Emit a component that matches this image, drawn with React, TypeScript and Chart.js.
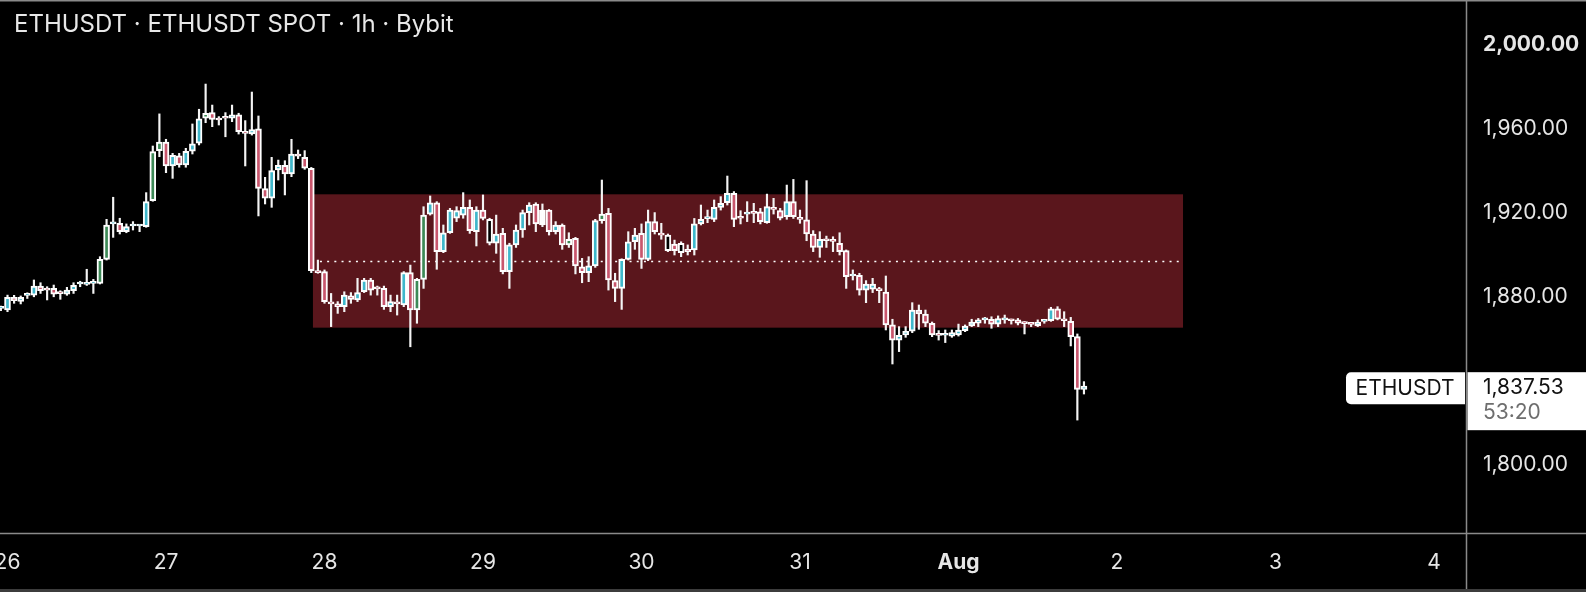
import { useEffect, useRef } from 'react';
import { Chart, registerables } from 'chart.js';

Chart.register(...registerables);

// ---- data (hour index counted from Jul 26 00:00, 1h candles) ----
const firstHour = -1;

const opens = [
  1874.6, 1873.8, 1879.8, 1877.9, 1880.8, 1880.9, 1885.2, 1883.9, 1884.1, 1881.7, 1881.4, 1883.0,
  1886.2, 1886.0, 1886.5, 1886.5, 1897.9, 1914.8, 1915.1, 1911.1, 1913.8, 1913.8, 1913.5, 1925.9,
  1949.7, 1953.8, 1942.4, 1947.2, 1942.9, 1949.4, 1953.2, 1965.2, 1967.8, 1964.4, 1965.2, 1965.1,
  1966.8, 1958.4, 1957.6, 1960.1, 1931.6, 1927.1, 1940.5, 1942.7, 1938.6, 1948.1, 1946.5, 1941.3,
  1892.5, 1892.1, 1877.3, 1876.7, 1875.4, 1880.5, 1878.6, 1882.5, 1888.1, 1884.2, 1884.1, 1875.4,
  1877.3, 1876.2, 1891.6, 1873.8, 1888.4, 1919.5, 1924.9, 1901.6, 1910.6, 1917.5, 1919.0, 1922.7,
  1911.1, 1921.4, 1917.0, 1905.6, 1910.3, 1892.1, 1904.8, 1911.9, 1920.2, 1924.3, 1914.3, 1921.4,
  1911.1, 1914.3, 1904.8, 1907.9, 1894.4, 1891.6, 1894.8, 1916.4, 1919.8, 1887.8, 1884.1, 1897.9,
  1906.3, 1910.3, 1897.9, 1915.9, 1910.3, 1909.5, 1905.2, 1901.1, 1902.7, 1902.4, 1914.8, 1917.3,
  1917.0, 1922.7, 1924.9, 1929.4, 1917.9, 1919.5, 1920.2, 1920.6, 1915.4, 1922.7, 1921.1, 1918.2,
  1925.4, 1917.9, 1916.7, 1910.0, 1903.6, 1907.5, 1906.8, 1905.6, 1902.1, 1890.0, 1890.3, 1883.3,
  1883.7, 1883.3, 1882.4, 1866.7, 1859.5, 1861.9, 1863.7, 1873.8, 1871.9, 1867.5, 1861.9, 1861.8,
  1861.4, 1861.9, 1864.0, 1866.2, 1867.5, 1869.1, 1869.4, 1867.1, 1869.1, 1868.9, 1869.1, 1867.6,
  1867.1, 1866.4, 1868.4, 1868.7, 1874.4, 1869.4, 1868.4, 1861.1, 1836.0,
];

const highs = [
  1875.7, 1880.9, 1880.8, 1880.5, 1882.0, 1888.1, 1886.8, 1884.9, 1885.7, 1883.0, 1884.6, 1886.8,
  1887.5, 1893.2, 1888.4, 1899.2, 1917.0, 1927.5, 1917.5, 1914.8, 1915.9, 1914.3, 1929.7, 1951.9,
  1967.2, 1955.1, 1948.4, 1948.4, 1950.8, 1962.4, 1969.4, 1981.4, 1971.4, 1965.9, 1967.8, 1971.4,
  1967.5, 1964.0, 1977.6, 1966.2, 1937.0, 1946.5, 1945.2, 1944.9, 1955.1, 1950.0, 1949.7, 1941.7,
  1897.6, 1892.9, 1881.7, 1877.8, 1882.5, 1882.1, 1888.9, 1888.9, 1888.9, 1885.2, 1885.2, 1880.9,
  1880.9, 1892.1, 1895.2, 1888.9, 1923.0, 1928.1, 1925.4, 1914.3, 1922.2, 1923.0, 1929.7, 1926.2,
  1923.0, 1928.6, 1917.5, 1919.0, 1912.7, 1905.6, 1914.3, 1921.4, 1924.9, 1924.9, 1924.3, 1921.7,
  1915.9, 1914.8, 1910.6, 1908.4, 1898.4, 1899.2, 1917.0, 1935.7, 1922.2, 1891.3, 1898.2, 1911.1,
  1912.7, 1914.8, 1921.4, 1920.2, 1915.1, 1910.0, 1907.1, 1906.3, 1904.8, 1917.4, 1923.8, 1921.4,
  1926.2, 1927.8, 1937.6, 1930.2, 1921.1, 1925.4, 1924.6, 1922.2, 1929.0, 1927.0, 1922.2, 1933.3,
  1936.0, 1921.4, 1935.4, 1911.6, 1911.1, 1909.0, 1908.7, 1910.6, 1902.4, 1892.9, 1891.3, 1887.8,
  1888.9, 1884.6, 1890.0, 1869.4, 1865.9, 1865.9, 1877.3, 1876.2, 1873.8, 1868.1, 1864.0, 1864.3,
  1864.3, 1867.1, 1866.7, 1869.4, 1869.8, 1870.3, 1870.6, 1871.0, 1871.4, 1869.5, 1869.8, 1868.3,
  1867.8, 1869.1, 1869.4, 1875.1, 1875.4, 1873.0, 1870.3, 1862.4, 1839.7,
];

const lows = [
  1873.5, 1873.0, 1877.0, 1876.7, 1879.3, 1880.1, 1881.7, 1878.6, 1880.1, 1878.9, 1880.8, 1881.7,
  1884.9, 1885.5, 1881.7, 1886.2, 1897.6, 1908.4, 1910.0, 1910.6, 1911.9, 1911.1, 1913.2, 1925.6,
  1946.8, 1939.2, 1936.5, 1941.8, 1941.8, 1948.1, 1952.4, 1963.0, 1961.1, 1961.9, 1956.3, 1963.5,
  1957.6, 1942.4, 1957.1, 1918.6, 1924.3, 1922.7, 1935.7, 1928.6, 1937.3, 1945.9, 1940.8, 1891.6,
  1891.3, 1877.0, 1865.9, 1872.2, 1873.0, 1877.0, 1877.8, 1882.1, 1880.9, 1880.9, 1874.1, 1873.0,
  1871.4, 1875.4, 1856.3, 1867.5, 1884.1, 1919.0, 1893.2, 1901.1, 1910.3, 1915.9, 1917.5, 1910.3,
  1904.3, 1916.7, 1904.8, 1900.8, 1891.0, 1884.1, 1903.6, 1908.4, 1914.3, 1911.1, 1913.5, 1909.5,
  1910.0, 1902.7, 1903.6, 1891.0, 1886.8, 1887.3, 1894.1, 1915.1, 1883.3, 1877.8, 1874.1, 1897.6,
  1902.7, 1893.6, 1897.3, 1910.0, 1907.5, 1901.6, 1900.0, 1899.2, 1900.0, 1900.0, 1914.3, 1915.4,
  1915.9, 1921.4, 1923.8, 1913.5, 1914.8, 1915.9, 1915.4, 1914.8, 1915.1, 1919.5, 1916.7, 1917.0,
  1917.4, 1915.1, 1906.8, 1901.6, 1898.9, 1903.6, 1901.6, 1900.0, 1884.1, 1888.1, 1880.9, 1877.3,
  1882.1, 1877.3, 1864.3, 1848.1, 1854.0, 1860.8, 1863.0, 1864.6, 1865.9, 1861.1, 1859.5, 1858.3,
  1860.8, 1861.4, 1863.5, 1865.9, 1865.9, 1867.5, 1865.1, 1865.9, 1867.5, 1867.1, 1866.7, 1862.4,
  1865.9, 1865.9, 1867.5, 1868.4, 1869.1, 1865.9, 1856.7, 1821.4, 1833.8,
];

const closes = [
  1874.9, 1879.8, 1878.2, 1879.8, 1881.1, 1885.2, 1883.0, 1883.3, 1881.4, 1881.6, 1883.3, 1885.5,
  1886.2, 1886.3, 1886.8, 1897.9, 1914.3, 1915.1, 1911.1, 1913.5, 1914.0, 1913.8, 1925.4, 1949.2,
  1953.8, 1942.4, 1947.5, 1942.9, 1949.4, 1952.9, 1964.9, 1967.5, 1964.6, 1964.3, 1965.1, 1966.8,
  1958.7, 1957.9, 1959.7, 1931.7, 1927.1, 1940.2, 1942.7, 1938.6, 1948.1, 1947.1, 1941.3, 1892.5,
  1891.6, 1877.8, 1876.7, 1875.4, 1880.9, 1878.9, 1882.1, 1888.1, 1883.3, 1883.9, 1875.4, 1877.8,
  1876.7, 1891.6, 1873.8, 1888.4, 1919.0, 1924.9, 1901.6, 1910.6, 1921.4, 1921.1, 1922.7, 1911.6,
  1921.4, 1917.4, 1905.6, 1910.0, 1892.1, 1904.8, 1911.9, 1920.2, 1923.8, 1914.8, 1921.4, 1911.1,
  1914.3, 1904.8, 1907.5, 1894.8, 1891.6, 1894.8, 1916.4, 1919.5, 1888.1, 1884.1, 1897.9, 1906.3,
  1909.5, 1897.9, 1915.9, 1911.1, 1909.5, 1902.1, 1902.1, 1905.6, 1901.6, 1914.8, 1917.0, 1917.6,
  1922.7, 1924.6, 1929.4, 1917.0, 1917.5, 1920.2, 1919.8, 1915.9, 1923.0, 1921.7, 1917.5, 1925.4,
  1918.2, 1917.0, 1910.0, 1903.6, 1907.5, 1906.8, 1906.5, 1901.6, 1889.7, 1890.3, 1883.3, 1886.2,
  1886.2, 1883.0, 1866.7, 1859.5, 1861.7, 1863.7, 1873.8, 1871.9, 1867.5, 1861.9, 1861.7, 1862.1,
  1863.0, 1864.3, 1866.2, 1868.1, 1869.1, 1869.4, 1867.1, 1869.7, 1869.2, 1868.7, 1867.5, 1867.3,
  1867.0, 1868.1, 1868.9, 1874.4, 1869.4, 1868.7, 1861.1, 1836.0, 1837.53,
];

// candles drawn with a green / black / white core instead of teal or pink
const greenHours = [14, 15, 22, 23, 30, 62, 63, 85, 90];
const hollowHours = [73, 100, 102];
const whiteHours = [81];

const dayTickHours = [0, 24, 48, 72, 96, 120, 144, 168, 192, 216];
const dayTickLabels = ['26', '27', '28', '29', '30', '31', 'Aug', '2', '3', '4'];
const boldDayLabels = ['Aug'];

const priceTicks = [1800, 1840, 1880, 1920, 1960, 2000];
const boldPriceTick = 2000;

const xRange = [-1.136, 220.85];
const yRange = [1767.62, 2021.43];

const zoneHours = [46.25, 178];
const zonePrices = [1865.4, 1928.9];

const symbol = 'ETHUSDT';
const lastPrice = 1837.53;
const countdown = '53:20';
const titleText = 'ETHUSDT · ETHUSDT SPOT · 1h · Bybit';

const FONT = 'Inter, "Noto Sans", sans-serif';
const TEAL = '#3fb7cb';
const PINK = '#c9566d';
const GREEN = '#3d8a57';
const ZONE = '#5a161c';
const FRAME = '#8a8a8a';

const fmtPrice = (v: number) =>
  v.toLocaleString('en-US', { minimumFractionDigits: 2, maximumFractionDigits: 2 });

const zonePlugin = {
  id: 'zone',
  beforeDatasetsDraw(chart: any) {
    const { ctx, scales } = chart;
    const x0 = scales.x.getPixelForValue(zoneHours[0]);
    const x1 = scales.x.getPixelForValue(zoneHours[1]);
    const yTop = scales.y.getPixelForValue(zonePrices[1]);
    const yBot = scales.y.getPixelForValue(zonePrices[0]);
    ctx.save();
    ctx.fillStyle = ZONE;
    ctx.fillRect(x0, yTop, x1 - x0, yBot - yTop);
    const mid = scales.y.getPixelForValue((zonePrices[0] + zonePrices[1]) / 2);
    ctx.strokeStyle = '#ffffff';
    ctx.lineWidth = 1.5;
    ctx.setLineDash([2, 5.2]);
    ctx.beginPath();
    ctx.moveTo(x0 + 7, Math.round(mid) + 0.5);
    ctx.lineTo(x1 - 4, Math.round(mid) + 0.5);
    ctx.stroke();
    ctx.restore();
  },
};

const framePlugin = {
  id: 'frame',
  afterDraw(chart: any) {
    const { ctx, chartArea, scales, width, height } = chart;
    const right = chartArea.right;
    const bottom = chartArea.bottom;
    ctx.save();
    ctx.strokeStyle = FRAME;
    ctx.lineWidth = 1.5;
    ctx.beginPath();
    ctx.moveTo(0, 0.75);
    ctx.lineTo(width, 0.75);
    ctx.moveTo(0, bottom + 0.5);
    ctx.lineTo(width, bottom + 0.5);
    ctx.moveTo(right + 0.5, 0);
    ctx.lineTo(right + 0.5, height - 3);
    ctx.stroke();
    ctx.fillStyle = '#3c3c3c';
    ctx.fillRect(0, height - 3, width, 3);

    // last price tags
    const yp = scales.y.getPixelForValue(lastPrice);
    ctx.fillStyle = '#ffffff';
    ctx.beginPath();
    (ctx as any).roundRect(right - 120, yp - 14, 119, 32, [5, 0, 0, 5]);
    ctx.fill();
    ctx.fillRect(right + 1.5, yp - 14, width - right, 58);
    ctx.fillStyle = '#111111';
    ctx.font = `21px ${FONT}`;
    ctx.textBaseline = 'middle';
    ctx.textAlign = 'center';
    ctx.fillText(symbol, right - 61, yp + 2);
    ctx.textAlign = 'left';
    ctx.fillText(fmtPrice(lastPrice), right + 17, yp + 1);
    ctx.fillStyle = '#6e6e6e';
    ctx.fillText(countdown, right + 17, yp + 26);
    ctx.restore();
  },
};

export default function App() {
  const canvasRef = useRef<HTMLCanvasElement | null>(null);

  useEffect(() => {
    const canvas = canvasRef.current;
    if (!canvas) return;
    const hours = opens.map((_, i) => firstHour + i);
    const bodyColors = hours.map((h, i) => {
      if (whiteHours.includes(h)) return '#ffffff';
      if (hollowHours.includes(h)) return '#000000';
      if (greenHours.includes(h)) return GREEN;
      return closes[i] >= opens[i] ? TEAL : PINK;
    });

    const chart = new Chart(canvas, {
      type: 'bar',
      data: {
        datasets: [
          {
            label: 'bodies',
            order: 0,
            data: hours.map((h, i) => ({ x: h, y: [opens[i], closes[i]] })) as any,
            backgroundColor: bodyColors,
            borderColor: '#ffffff',
            borderWidth: 2,
            borderSkipped: false,
            barThickness: 6,
            minBarLength: 2,
          },
          {
            label: 'wicks',
            order: 1,
            data: hours.map((h, i) => ({ x: h, y: [lows[i], highs[i]] })) as any,
            backgroundColor: '#f4f4f4',
            borderWidth: 0,
            barThickness: 1.5,
            minBarLength: 1,
          },
        ],
      },
      options: {
        animation: false,
        responsive: true,
        maintainAspectRatio: false,
        events: [],
        layout: { padding: 0 },
        datasets: { bar: { grouped: false } } as any,
        plugins: {
          legend: { display: false },
          tooltip: { enabled: false },
          title: { display: false },
        },
        scales: {
          x: {
            type: 'linear',
            position: 'bottom',
            offset: false,
            min: xRange[0],
            max: xRange[1],
            grid: { display: false, drawTicks: false, offset: false },
            border: { display: false },
            afterBuildTicks: (scale: any) => {
              scale.ticks = dayTickHours.map((v) => ({ value: v }));
            },
            afterFit: (scale: any) => {
              scale.height = 59;
              scale.paddingLeft = 0;
              scale.paddingRight = 0;
            },
            ticks: {
              autoSkip: false,
              maxRotation: 0,
              minRotation: 0,
              padding: 17,
              color: '#e6e6e6',
              font: (c: any) => {
                const idx = dayTickHours.indexOf(c.tick ? c.tick.value : -999);
                const bold = idx >= 0 && boldDayLabels.includes(dayTickLabels[idx]);
                return { family: FONT, size: 21, weight: bold ? 'bold' : 'normal' } as any;
              },
              callback: (v: any) => {
                const idx = dayTickHours.indexOf(Number(v));
                return idx >= 0 ? dayTickLabels[idx] : '';
              },
            },
          },
          y: {
            type: 'linear',
            position: 'right',
            offset: false,
            min: yRange[0],
            max: yRange[1],
            grid: { display: false, drawTicks: false },
            border: { display: false },
            afterBuildTicks: (scale: any) => {
              scale.ticks = priceTicks.map((v) => ({ value: v }));
            },
            afterFit: (scale: any) => {
              scale.width = 120;
              scale.paddingTop = 0;
              scale.paddingBottom = 0;
            },
            ticks: {
              padding: 17,
              color: '#e6e6e6',
              font: (c: any) =>
                ({
                  family: FONT,
                  size: 21,
                  weight: c.tick && c.tick.value === boldPriceTick ? 'bold' : 'normal',
                }) as any,
              // the tick hidden behind the last-price tag is left blank
              callback: (v: any) => (Math.abs(Number(v) - lastPrice) < 15 ? '' : fmtPrice(Number(v))),
            },
          },
        },
      },
      plugins: [zonePlugin, framePlugin],
    });
    return () => chart.destroy();
  }, []);

  return (
    <div
      style={{
        position: 'fixed',
        left: 0,
        top: 0,
        width: 1586,
        height: 592,
        background: '#000000',
        overflow: 'hidden',
      }}
    >
      <canvas ref={canvasRef} />
      <div
        style={{
          position: 'absolute',
          left: 14,
          top: 10,
          fontFamily: FONT,
          fontSize: 24,
          lineHeight: '28px',
          color: '#e8e8e8',
          whiteSpace: 'nowrap',
          pointerEvents: 'none',
        }}
      >
        {titleText}
      </div>
    </div>
  );
}
